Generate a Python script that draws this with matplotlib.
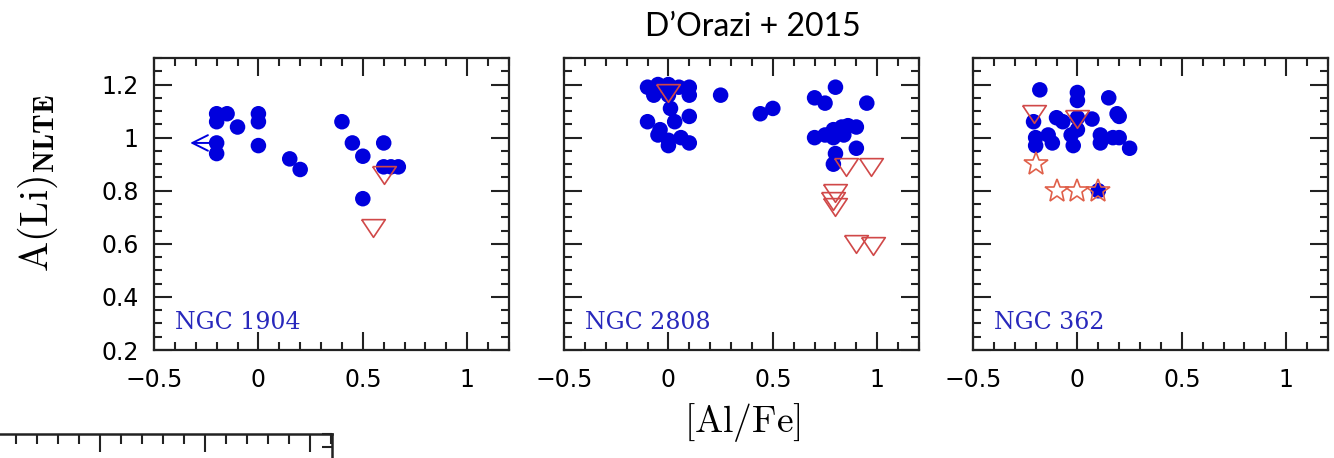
import numpy as np
import matplotlib
matplotlib.use("Agg")
import matplotlib.pyplot as plt
from matplotlib.ticker import MultipleLocator, FuncFormatter

plt.rcParams["mathtext.fontset"] = "cm"

# ---- data ----
# NGC 1904
x1904 = [-0.20, -0.20, -0.15, -0.20, -0.20, -0.10, 0.0, 0.0, 0.0, 0.15, 0.20,
         0.40, 0.45, 0.50, 0.50, 0.60, 0.60, 0.635, 0.67]
y1904 = [1.09, 1.06, 1.09, 0.98, 0.94, 1.04, 1.09, 1.06, 0.97, 0.92, 0.88,
         1.06, 0.98, 0.93, 0.77, 0.98, 0.89, 0.89, 0.89]
tri_x1904 = [0.60, 0.55]
tri_y1904 = [0.86, 0.66]
lim_x1904 = [-0.21]
lim_y1904 = [0.98]

# NGC 2808
x2808 = [-0.10, -0.05, 0.0, 0.05, 0.10, 0.10, -0.07, 0.0, 0.01, 0.10, -0.10,
         0.03, -0.04, -0.05, 0.0, 0.0, 0.06, 0.10, 0.25, 0.44, 0.50, 0.70,
         0.75, 0.80, 0.95, 0.70, 0.75, 0.79, 0.83, 0.86, 0.90, 0.79, 0.84,
         0.80, 0.90, 0.79]
y2808 = [1.19, 1.20, 1.20, 1.19, 1.19, 1.16, 1.16, 1.16, 1.11, 1.08, 1.06,
         1.06, 1.03, 1.01, 0.99, 0.97, 1.00, 0.98, 1.16, 1.09, 1.11, 1.15,
         1.13, 1.19, 1.13, 1.00, 1.01, 1.03, 1.04, 1.045, 1.04, 1.00, 1.01,
         0.94, 0.96, 0.90]
tri_x2808 = [0.0, 0.85, 0.97, 0.80, 0.79, 0.80, 0.90, 0.98]
tri_y2808 = [1.17, 0.89, 0.89, 0.79, 0.76, 0.74, 0.60, 0.59]

# NGC 362
x362 = [-0.18, 0.0, 0.15, 0.0, -0.21, -0.20, -0.20, -0.10, -0.07, -0.03,
        -0.02, 0.0, 0.0, 0.07, 0.11, 0.11, 0.17, 0.20, 0.19, 0.20, 0.25,
        -0.14, -0.12, 0.10]
y362 = [1.18, 1.17, 1.15, 1.14, 1.06, 1.00, 0.97, 1.075, 1.06, 1.01,
        0.97, 1.075, 1.03, 1.07, 1.01, 0.98, 1.00, 1.00, 1.09, 1.08, 0.96,
        1.01, 0.98, 0.80]
tri_x362 = [-0.21, 0.0]
tri_y362 = [1.09, 1.07]
star_x362 = [-0.20, -0.10, 0.0, 0.10]
star_y362 = [0.90, 0.80, 0.80, 0.80]

cluster_names = ["NGC 1904", "NGC 2808", "NGC 362"]

BLUE = "#0000dd"
RED = "#d04848"
CORAL = "#e0604a"
tri_marker = [(-1, 0.75), (1, 0.75), (0, -0.75), (-1, 0.75)]

W, H = 1334, 458
fig = plt.figure(figsize=(W / 100, H / 100), dpi=100)

def box(l, t, w, h):
    return [l / W, 1 - (t + h) / H, w / W, h / H]

lefts = [154, 564, 973]
fmt = FuncFormatter(lambda v, _: f"{v:g}".replace("-", "\u2212"))


def style(ax, show_y):
    ax.set_xlim(-0.5, 1.2)
    ax.set_ylim(0.2, 1.3)
    ax.xaxis.set_major_locator(MultipleLocator(0.5))
    ax.xaxis.set_minor_locator(MultipleLocator(0.1))
    ax.yaxis.set_major_locator(MultipleLocator(0.2))
    ax.yaxis.set_minor_locator(MultipleLocator(0.05))
    ax.xaxis.set_major_formatter(fmt)
    ax.yaxis.set_major_formatter(fmt)
    ax.tick_params(which="both", direction="in", top=True, right=True,
                   width=1.5, color="#222222", labelsize=17)
    ax.tick_params(which="major", length=13)
    ax.tick_params(which="minor", length=6)
    ax.tick_params(axis="x", pad=13)
    ax.tick_params(axis="y", pad=11)
    if not show_y:
        ax.tick_params(axis="y", labelleft=False)
    for sp in ax.spines.values():
        sp.set_linewidth(1.6)
        sp.set_color("#222222")


panels = [
    (x1904, y1904, tri_x1904, tri_y1904),
    (x2808, y2808, tri_x2808, tri_y2808),
    (x362, y362, tri_x362, tri_y362),
]

axes = []
for i, (xs, ys, tx, ty) in enumerate(panels):
    ax = fig.add_axes(box(lefts[i], 58, 355, 292))
    style(ax, i == 0)
    ax.scatter(xs, ys, s=125, color=BLUE, edgecolors="none", zorder=3)
    ax.plot(tx, ty, linestyle="none", marker=tri_marker, markersize=17,
            markerfacecolor="none", markeredgecolor=RED, markeredgewidth=1.2,
            zorder=4)
    ax.text(0.06, 0.093, cluster_names[i], transform=ax.transAxes,
            color="#2828bc", fontsize=17, family="DejaVu Serif",
            va="center", ha="left")
    axes.append(ax)

# upper limit arrow in NGC 1904
for lx, ly in zip(lim_x1904, lim_y1904):
    axes[0].annotate("", xy=(lx - 0.13, ly), xytext=(lx, ly),
                     arrowprops=dict(arrowstyle="->", color=BLUE, lw=1.4,
                                     mutation_scale=28))

axes[2].plot(star_x362, star_y362, linestyle="none", marker="*",
             markersize=18, markerfacecolor="none", markeredgecolor=CORAL,
             markeredgewidth=1.2, zorder=5)

fig.text(38 / W, 1 - 183 / H, r"$\mathrm{A(Li)}_{\mathbf{NLTE}}$",
         rotation=90, ha="center", va="center", fontsize=29)
fig.text(742 / W, 1 - 423 / H, r"$[\mathrm{Al/Fe}]$",
         ha="center", va="center", fontsize=27)
fig.text(753 / W, 1 - 27 / H, "D\u2019Orazi + 2015", ha="center",
         va="center", fontsize=23, family="Lato")

# cut-off panel at the bottom left
axb = fig.add_axes(box(-30, 434, 362, 292))
axb.set_xlim(-130 / 210, 232 / 210)
axb.set_ylim(0.2, 1.3)
axb.xaxis.set_major_locator(MultipleLocator(0.5))
axb.xaxis.set_minor_locator(MultipleLocator(0.1))
axb.yaxis.set_major_locator(MultipleLocator(0.2))
axb.yaxis.set_minor_locator(MultipleLocator(0.05))
axb.tick_params(which="both", direction="in", top=True, right=True,
                bottom=False, left=False, labelbottom=False, labelleft=False,
                width=1.5, color="#222222")
axb.tick_params(which="major", length=13)
axb.tick_params(which="minor", length=7)
for sp in axb.spines.values():
    sp.set_linewidth(1.8)
    sp.set_color("#222222")

fig.savefig("out.png", dpi=100)
